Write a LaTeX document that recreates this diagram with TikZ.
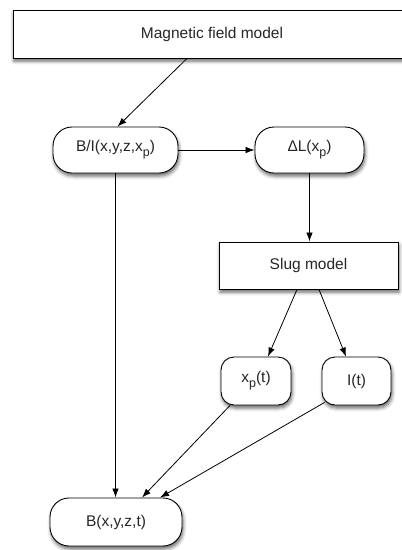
\documentclass[tikz,border=0pt]{standalone}
\usepackage{fontspec}
\setmainfont{Liberation Sans}
\usetikzlibrary{arrows.meta,shadows,shadows.blur,calc}
\newcommand{\sbp}{\raisebox{-0.6ex}{\fontsize{12.5}{12.5}\selectfont p}}
\begin{document}
\begin{tikzpicture}[x=1pt,y=-1pt,
  lbl/.style={font=\fontsize{15.5}{17}\selectfont, text=black!85},
  sq/.style={lbl, draw, line width=0.9pt, fill=white, inner sep=0pt,
    blur shadow={shadow xshift=1pt, shadow yshift=-3pt, shadow blur radius=3.5pt, shadow opacity=60}},
  rnd/.style={sq, rounded corners=19pt},
  arr/.style={line width=0.8pt, -{Latex[length=9pt,width=6.5pt]}}]
\useasboundingbox (0,0) rectangle (402,550);
\node[sq, minimum width=424pt, minimum height=48pt] (mag) at (225,34) {\hspace*{-26pt}Magnetic field model};
\node[rnd, minimum width=125pt, minimum height=46pt] (bi) at (115.5,150) {B/I(x,y,z,x\sbp)};
\node[rnd, minimum width=109pt, minimum height=46pt] (dl) at (309.5,150) {ΔL(x\sbp)};
\node[sq, minimum width=179pt, minimum height=47pt] (slug) at (308.5,265.5) {Slug model};
\node[rnd, rounded corners=13pt, minimum width=70pt, minimum height=48pt] (xp) at (256,381) {x\sbp(t)};
\node[rnd, rounded corners=13pt, minimum width=69pt, minimum height=48pt] (it) at (356.5,381) {I(t)};
\node[rnd, minimum width=132pt, minimum height=48pt] (b) at (116,522) {B(x,y,z,t)};
\draw[arr] ([xshift=-38pt]mag.south) -- ([xshift=2pt]bi.north);
\draw[arr] (bi.east) -- (dl.west);
\draw[arr] (dl.south) -- (dl.south |- slug.north);
\draw[arr] (bi.south) -- (bi.south |- b.north);
\draw[arr] ([xshift=-11.5pt]slug.south) -- ([xshift=12pt]xp.north);
\draw[arr] ([xshift=10.5pt]slug.south) -- ([xshift=-10.5pt]it.north);
\draw[arr] ([xshift=-26pt]xp.south) -- ([xshift=26pt]b.north);
\draw[arr] ([xshift=3pt,yshift=3pt]it.south west) -- ([xshift=44pt]b.north);
\end{tikzpicture}
\end{document}
